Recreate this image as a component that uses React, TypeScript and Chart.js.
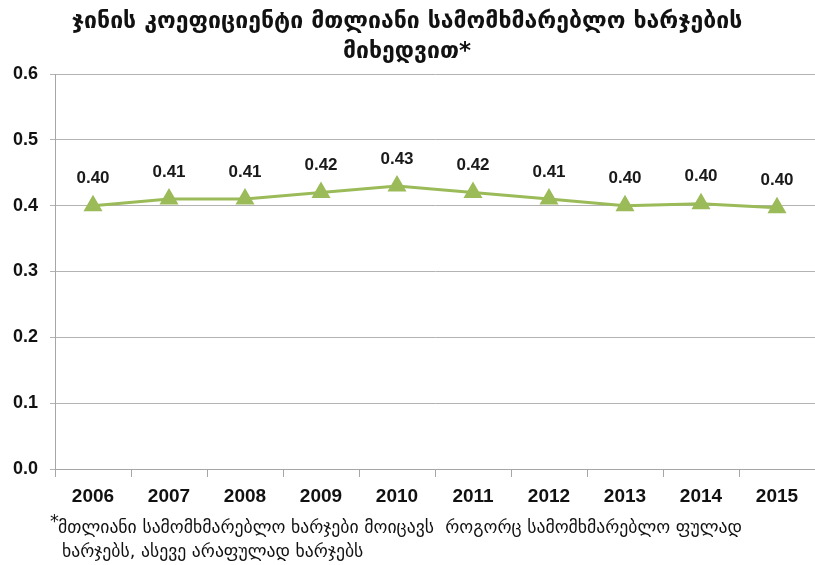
import React, { useEffect, useRef } from "react";
import { Chart, registerables } from "chart.js";

Chart.register(...registerables);

const years = ["2006", "2007", "2008", "2009", "2010", "2011", "2012", "2013", "2014", "2015"];
const gini = [0.4, 0.41, 0.41, 0.42, 0.43, 0.42, 0.41, 0.4, 0.403, 0.397];
const giniLabels = ["0.40", "0.41", "0.41", "0.42", "0.43", "0.42", "0.41", "0.40", "0.40", "0.40"];
const titleLines = ["ჯინის კოეფიციენტი მთლიანი სამომხმარებლო ხარჯების", "მიხედვით*"];
const footnoteLines = [
  "მთლიანი სამომხმარებლო ხარჯები მოიცავს  როგორც სამომხმარებლო ფულად",
  "ხარჯებს, ასევე არაფულად ხარჯებს",
];

const GEO_FONT = '"DejaVu Sans", "Noto Sans", sans-serif';

export default function App() {
  const ref = useRef<HTMLCanvasElement>(null);
  useEffect(() => {
    document.body.style.margin = "0";
    const canvas = ref.current!;
    const extras = {
      id: "extras",
      afterDatasetsDraw(chart: any) {
        const ctx = chart.ctx;
        const meta = chart.getDatasetMeta(0);
        ctx.save();
        ctx.fillStyle = "#1a1a1a";
        ctx.font = 'bold 17px "Liberation Sans", Arial, sans-serif';
        ctx.textAlign = "center";
        ctx.textBaseline = "middle";
        meta.data.forEach((pt: any, i: number) => {
          ctx.fillText(giniLabels[i], pt.x, pt.y - 27);
        });
        ctx.restore();
      },
      afterDraw(chart: any) {
        const ctx = chart.ctx;
        ctx.save();
        ctx.fillStyle = "#111";
        ctx.textBaseline = "middle";
        ctx.textAlign = "center";
        ctx.font = "bold 23px " + GEO_FONT;
        ctx.fillText(titleLines[0], 407, 22);
        ctx.fillText(titleLines[1], 407, 52);
        ctx.textAlign = "left";
        ctx.font = "17.7px " + GEO_FONT;
        ctx.fillText("*", 50, 522);
        ctx.fillText(footnoteLines[0], 58, 528);
        ctx.fillText(footnoteLines[1], 62, 552);
        ctx.restore();
      },
    };
    const chart = new Chart(canvas, {
      type: "line",
      data: {
        labels: years,
        datasets: [
          {
            data: gini,
            borderColor: "#9bbb59",
            backgroundColor: "#9bbb59",
            borderWidth: 3,
            pointStyle: "triangle",
            pointRadius: 8,
            pointHoverRadius: 8,
            pointBackgroundColor: "#9bbb59",
            pointBorderColor: "#9bbb59",
            tension: 0,
          },
        ],
      },
      options: {
        responsive: false,
        animation: false,
        layout: { padding: { top: 74, right: 0, left: 0, bottom: 0 } },
        plugins: { legend: { display: false }, tooltip: { enabled: false }, title: { display: false } },
        scales: {
          x: {
            offset: true,
            grid: { offset: true, drawOnChartArea: false, drawTicks: true, tickLength: 8, color: "#a6a6a6" },
            border: { color: "#a6a6a6", width: 1 },
            ticks: {
              color: "#111",
              font: { family: '"Liberation Sans Narrow", "Liberation Sans", Arial', size: 19, weight: "bold" },
              padding: 8,
              maxRotation: 0,
            },
            afterFit(scale: any) {
              scale.height = 96;
            },
          },
          y: {
            min: 0,
            max: 0.6,
            ticks: {
              stepSize: 0.1,
              color: "#111",
              font: { family: '"Liberation Sans", Arial', size: 18, weight: "bold" },
              padding: 12,
              callback: (v: any) => Number(v).toFixed(1),
            },
            grid: { color: "#b3b3b3", lineWidth: 1, tickLength: 5 },
            border: { color: "#a6a6a6", width: 1 },
            afterFit(scale: any) {
              scale.width = 55;
            },
          },
        },
      },
      plugins: [extras],
    });
    return () => chart.destroy();
  }, []);
  return (
    <div style={{ width: 815, height: 565, background: "#fff", overflow: "hidden" }}>
      <canvas ref={ref} width={826} height={565} />
    </div>
  );
}
